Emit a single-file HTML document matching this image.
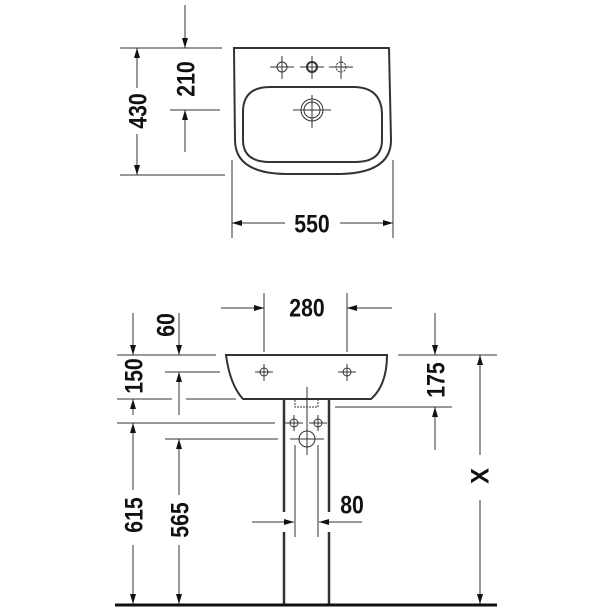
<!DOCTYPE html>
<html><head><meta charset="utf-8"><style>
html,body{margin:0;padding:0;background:#fff;}
svg{display:block;}
text{font-family:"Liberation Sans",sans-serif;font-weight:bold;font-size:25px;fill:#111;}
</style></head><body>
<svg width="614" height="614" viewBox="0 0 614 614" xmlns="http://www.w3.org/2000/svg">
<defs>
<marker id="a" markerWidth="10" markerHeight="6" refX="10" refY="3" orient="auto" markerUnits="userSpaceOnUse"><path d="M0,0 L10,3 L0,6 z" fill="#111"/></marker>
</defs>
<g stroke="#333" stroke-width="1" fill="none">
<!-- TOP VIEW -->
<path d="M234,48 L389,48 L391,140 Q391,173 340,174 L285,174 Q235,173 235,140 Z" stroke-width="2"/>
<path d="M243,112 Q243,87 270,87 L355,87 Q382,88 382,115 L382,140 Q382,162 355,162 L270,162 Q243,162 243,140 Z" stroke-width="2"/>
<g stroke-width="1">
<line x1="270" y1="67" x2="294" y2="67"/><line x1="282" y1="56" x2="282" y2="79"/><circle cx="282" cy="67" r="5"/>
<line x1="300" y1="67" x2="324" y2="67"/><line x1="312" y1="56" x2="312" y2="79"/><circle cx="312" cy="67" r="5" stroke-width="2"/>
<line x1="329" y1="67" x2="353" y2="67"/><line x1="341" y1="56" x2="341" y2="79"/><circle cx="341" cy="67" r="5" stroke-dasharray="2,1"/>
<line x1="293" y1="110" x2="331" y2="110"/><line x1="312" y1="95" x2="312" y2="128"/><circle cx="312" cy="110" r="8"/><circle cx="312" cy="110" r="11"/>
</g>
<!-- 430 -->
<line x1="120" y1="48" x2="222" y2="48"/><line x1="120" y1="175" x2="225" y2="175"/>
<line x1="137" y1="88" x2="137" y2="48" marker-end="url(#a)"/>
<line x1="137" y1="134" x2="137" y2="175" marker-end="url(#a)"/>
<!-- 210 -->
<line x1="185" y1="5" x2="185" y2="48" marker-end="url(#a)"/>
<line x1="170" y1="110" x2="220" y2="110"/>
<line x1="185" y1="152" x2="185" y2="110" marker-end="url(#a)"/>
<!-- 550 -->
<line x1="232" y1="160" x2="232" y2="238"/><line x1="393" y1="160" x2="393" y2="238"/>
<line x1="285" y1="223" x2="232" y2="223" marker-end="url(#a)"/>
<line x1="340" y1="223" x2="393" y2="223" marker-end="url(#a)"/>

<!-- FRONT VIEW -->
<path d="M226,355 L387,355 Q387,385 371,399 L243,399 Q230,385 226,355 Z" stroke-width="2"/>
<circle cx="264" cy="372" r="4"/><line x1="255" y1="372" x2="273" y2="372"/><line x1="264" y1="364" x2="264" y2="381"/>
<circle cx="347" cy="372" r="4"/><line x1="338" y1="372" x2="356" y2="372"/><line x1="347" y1="364" x2="347" y2="381"/>
<g stroke-width="2.5">
<line x1="284" y1="399" x2="284" y2="512"/><line x1="284" y1="532" x2="284" y2="604"/>
<line x1="329" y1="399" x2="329" y2="512"/><line x1="329" y1="532" x2="329" y2="604"/>
</g>
<path d="M295,400 L295,407 L318,407 L318,400" stroke-dasharray="2,1"/>
<line x1="307" y1="387" x2="307" y2="455"/>
<circle cx="294" cy="423" r="4"/><line x1="285" y1="423" x2="303" y2="423"/><line x1="294" y1="415" x2="294" y2="431"/>
<circle cx="318" cy="423" r="4"/><line x1="309" y1="423" x2="327" y2="423"/><line x1="318" y1="415" x2="318" y2="431"/>
<circle cx="307" cy="439" r="8"/><line x1="290" y1="439" x2="324" y2="439"/>
<line x1="295" y1="445" x2="295" y2="537"/><line x1="318" y1="445" x2="318" y2="537"/>
<!-- floor -->
<line x1="115" y1="605" x2="497" y2="605" stroke="#111" stroke-width="3"/>
<!-- 280 -->
<line x1="264" y1="293" x2="264" y2="352"/><line x1="347" y1="293" x2="347" y2="352"/>
<line x1="221" y1="308" x2="264" y2="308" marker-end="url(#a)"/>
<line x1="392" y1="308" x2="347" y2="308" marker-end="url(#a)"/>
<!-- left ext lines -->
<line x1="117" y1="355" x2="216" y2="355"/>
<line x1="165" y1="372" x2="220" y2="372"/>
<line x1="117" y1="399" x2="172" y2="399"/><line x1="186" y1="399" x2="236" y2="399"/>
<line x1="117" y1="423" x2="275" y2="423"/>
<line x1="165" y1="439" x2="278" y2="439"/>
<!-- 150 / 615 -->
<line x1="133" y1="313" x2="133" y2="355" marker-end="url(#a)"/>
<line x1="133" y1="415" x2="133" y2="399" marker-end="url(#a)"/>
<line x1="133" y1="490" x2="133" y2="423" marker-end="url(#a)"/>
<line x1="133" y1="545" x2="133" y2="604" marker-end="url(#a)"/>
<!-- 60 / 565 -->
<line x1="179" y1="313" x2="179" y2="355" marker-end="url(#a)"/>
<line x1="179" y1="415" x2="179" y2="372" marker-end="url(#a)"/>
<line x1="179" y1="495" x2="179" y2="439" marker-end="url(#a)"/>
<line x1="179" y1="545" x2="179" y2="604" marker-end="url(#a)"/>
<!-- 80 -->
<line x1="252" y1="522" x2="294" y2="522" marker-end="url(#a)"/>
<line x1="362" y1="522" x2="319" y2="522" marker-end="url(#a)"/>
<!-- 175 / X -->
<line x1="398" y1="355" x2="497" y2="355"/>
<line x1="335" y1="407" x2="452" y2="407"/>
<line x1="435" y1="313" x2="435" y2="355" marker-end="url(#a)"/>
<line x1="435" y1="450" x2="435" y2="407" marker-end="url(#a)"/>
<line x1="480" y1="455" x2="480" y2="355" marker-end="url(#a)"/>
<line x1="480" y1="500" x2="480" y2="604" marker-end="url(#a)"/>
</g>
<!-- labels -->
<g text-anchor="middle" dominant-baseline="central">
<text transform="translate(138,111) rotate(-90) scale(0.85,1)">430</text>
<text transform="translate(186,79) rotate(-90) scale(0.85,1)">210</text>
<text transform="translate(312,224) scale(0.85,1)">550</text>
<text transform="translate(307,308) scale(0.85,1)">280</text>
<text transform="translate(166,325) rotate(-90) scale(0.85,1)">60</text>
<text transform="translate(134,376) rotate(-90) scale(0.85,1)">150</text>
<text transform="translate(134,515) rotate(-90) scale(0.85,1)">615</text>
<text transform="translate(180,520) rotate(-90) scale(0.85,1)">565</text>
<text transform="translate(352,505) scale(0.85,1)">80</text>
<text transform="translate(436,380) rotate(-90) scale(0.85,1)">175</text>
<text transform="translate(481,476) rotate(-90) scale(0.95,1)">X</text>
</g>
</svg>
</body></html>
